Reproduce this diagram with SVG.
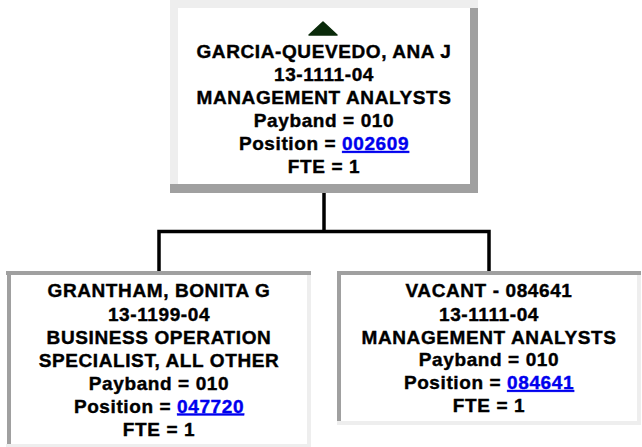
<svg xmlns="http://www.w3.org/2000/svg" width="642" height="447" viewBox="0 0 642 447">
<style>
.lt{fill:#eeeeee}
.dk{fill:#a0a0a0}
.t{font-family:"Liberation Sans",Arial,sans-serif;font-weight:bold;font-size:19px;letter-spacing:0.6px;fill:#000;stroke:#000;stroke-width:0.4px;text-anchor:middle}
.lnk{fill:#0000ee;stroke:#0000ee;text-decoration:underline}
.conn{fill:none;stroke:#000;stroke-width:3.5;stroke-linejoin:miter}
</style>
<rect width="642" height="447" fill="#fff"/>
<g id="connectors">
<path class="conn" d="M324 193 V231.5"/>
<path class="conn" d="M159 271 V231.5 H489 V271"/>
</g>
<g id="node-garcia">
<rect x="170" y="0" width="308" height="193" fill="#fff"/>
<rect class="lt" x="170" y="0" width="308" height="8"/>
<rect class="lt" x="170" y="0" width="8" height="184"/>
<rect class="dk" x="470" y="8" width="8" height="185"/>
<rect class="dk" x="170" y="184" width="308" height="9"/>
<polygon points="323,22 337,35 309,35" fill="#0b2b0b" stroke="#0b2b0b" stroke-width="1.5" stroke-linejoin="round"/>
<text class="t" x="324" y="58">GARCIA-QUEVEDO, ANA J</text>
<text class="t" x="324" y="81">13-1111-04</text>
<text class="t" x="324" y="104">MANAGEMENT ANALYSTS</text>
<text class="t" x="324" y="127">Payband = 010</text>
<text class="t" x="324" y="150">Position = <tspan class="lnk">002609</tspan></text>
<text class="t" x="324" y="173">FTE = 1</text>
</g>
<g id="node-grantham">
<rect x="6" y="271" width="305" height="176" fill="#fff"/>
<rect class="dk" x="6" y="271" width="305" height="4"/>
<rect class="dk" x="7" y="271" width="4" height="173"/>
<rect class="lt" x="307" y="275" width="4" height="172"/>
<rect class="lt" x="6" y="444" width="305" height="3"/>
<text class="t" x="159" y="297">GRANTHAM, BONITA G</text>
<text class="t" x="159" y="320.5">13-1199-04</text>
<text class="t" x="159" y="343.5">BUSINESS OPERATION</text>
<text class="t" x="159" y="366.5">SPECIALIST, ALL OTHER</text>
<text class="t" x="159" y="389.5">Payband = 010</text>
<text class="t" x="159" y="412.5">Position = <tspan class="lnk">047720</tspan></text>
<text class="t" x="159" y="435.5">FTE = 1</text>
</g>
<g id="node-vacant">
<rect x="337" y="271" width="304" height="154" fill="#fff"/>
<rect class="dk" x="337" y="271" width="304" height="4"/>
<rect class="dk" x="337" y="271" width="4" height="150"/>
<rect class="lt" x="637" y="275" width="4" height="150"/>
<rect class="lt" x="337" y="421" width="304" height="4"/>
<text class="t" x="489" y="297">VACANT - 084641</text>
<text class="t" x="489" y="320.5">13-1111-04</text>
<text class="t" x="489" y="343.5">MANAGEMENT ANALYSTS</text>
<text class="t" x="489" y="366">Payband = 010</text>
<text class="t" x="489" y="389">Position = <tspan class="lnk">084641</tspan></text>
<text class="t" x="489" y="412">FTE = 1</text>
</g>
</svg>
